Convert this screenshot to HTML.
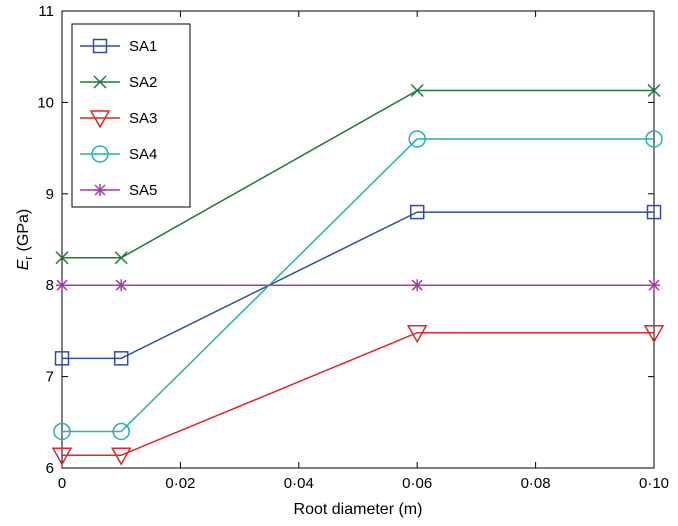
<!DOCTYPE html>
<html><head><meta charset="utf-8"><style>
body{margin:0;background:#fff;}
svg{display:block;font-family:"Liberation Sans",sans-serif;}
</style></head><body>
<svg id="chart" width="678" height="526"></svg>
<script>
const categories=[0,0.01,0.06,0.10];
const seriesNames=["SA1","SA2","SA3","SA4","SA5"];
const sa1=[7.2,7.2,8.8,8.8];
const sa2=[8.3,8.3,10.13,10.13];
const sa3=[6.14,6.14,7.48,7.48];
const sa4=[6.4,6.4,9.6,9.6];
const sa5=[8,8,8,8];
const xTicks=[0,0.02,0.04,0.06,0.08,0.10];
const xTickLabels=["0","0·02","0·04","0·06","0·08","0·10"];
const yTicks=[6,7,8,9,10,11];
const colors=["#2e4f9c","#1f7a3a","#e0262b","#20b4b4","#a63ca8"];
const markers=["square","x","tri","circle","star"];

const NS="http://www.w3.org/2000/svg";
const svg=document.getElementById('chart');
const L=62,R=654,T=11,B=468;
const xs=v=>L+(v-0)/(0.10)*(R-L);
const ys=v=>B-(v-6)/(5)*(B-T);
function mk(tag,attrs,parent){const e=document.createElementNS(NS,tag);for(const k in attrs)e.setAttribute(k,attrs[k]);(parent||svg).appendChild(e);return e;}

const frame=mk('rect',{x:L,y:T,width:R-L,height:B-T,fill:'none',stroke:'#000','stroke-width':1});



xTicks.forEach((t,i)=>{
  const x=xs(t);
  mk('line',{x1:x,y1:B,x2:x,y2:B-6,stroke:'#000'});
  mk('line',{x1:x,y1:T,x2:x,y2:T+6,stroke:'#000'});
  const tx=mk('text',{x:x,y:B+20,'text-anchor':'middle','font-size':15});
  tx.textContent=xTickLabels[i];
  
  
});
yTicks.forEach(t=>{
  const y=ys(t);
  mk('line',{x1:L,y1:y,x2:L+6,y2:y,stroke:'#000'});
  mk('line',{x1:R,y1:y,x2:R-6,y2:y,stroke:'#000'});
  const tx=mk('text',{x:L-8,y:y+5,'text-anchor':'end','font-size':15});
  tx.textContent=t;
  
  
});
const xt=mk('text',{x:(L+R)/2,y:B+46,'text-anchor':'middle','font-size':16});
xt.textContent="Root diameter (m)";


const yt=mk('text',{transform:`translate(28,${(T+B)/2}) rotate(-90)`,'text-anchor':'middle','font-size':16});
yt.innerHTML='<tspan font-style="italic">E</tspan><tspan font-size="11" dy="4">r</tspan><tspan dy="-4"> (GPa)</tspan>';



function marker(type,x,y,c,g){
  const s=8;
  if(type==='square')mk('rect',{x:x-6.5,y:y-6.5,width:13,height:13,fill:'none',stroke:c,'stroke-width':1.5},g);
  else if(type==='x'){mk('path',{d:`M${x-6} ${y-6}L${x+6} ${y+6}M${x-6} ${y+6}L${x+6} ${y-6}`,stroke:c,'stroke-width':1.5},g);}
  else if(type==='tri')mk('path',{d:`M${x-9} ${y-7}L${x+9} ${y-7}L${x} ${y+9}Z`,fill:'none',stroke:c,'stroke-width':1.5},g);
  else if(type==='circle')mk('circle',{cx:x,cy:y,r:8,fill:'none',stroke:c,'stroke-width':1.5},g);
  else {mk('path',{d:`M${x-6} ${y}L${x+6} ${y}M${x} ${y-6}L${x} ${y+6}M${x-5} ${y-5}L${x+5} ${y+5}M${x-5} ${y+5}L${x+5} ${y-5}`,stroke:c,'stroke-width':1.5},g);}
}
const allSeries=[sa1,sa2,sa3,sa4,sa5];
allSeries.forEach((data,si)=>{
  const g=mk('g',{});
  
  
  const pts=data.map((v,i)=>xs(categories[i])+','+ys(v)).join(' ');
  mk('polyline',{points:pts,fill:'none',stroke:colors[si],'stroke-width':1.5},g);
  data.forEach((v,i)=>marker(markers[si],xs(categories[i]),ys(v),colors[si],g));
});

const lg=mk('g',{});


mk('rect',{x:72,y:24,width:118,height:183,fill:'#fff',stroke:'#000'},lg);
seriesNames.forEach((n,i)=>{
  const y=46+i*36;
  const e=mk('g',{},lg);
  
  
  mk('line',{x1:80,y1:y,x2:120,y2:y,stroke:colors[i],'stroke-width':1.5},e);
  marker(markers[i],100,y,colors[i],e);
  const t=mk('text',{x:129,y:y+5,'font-size':15},e);
  t.textContent=n;
});
</script>
</body></html>
